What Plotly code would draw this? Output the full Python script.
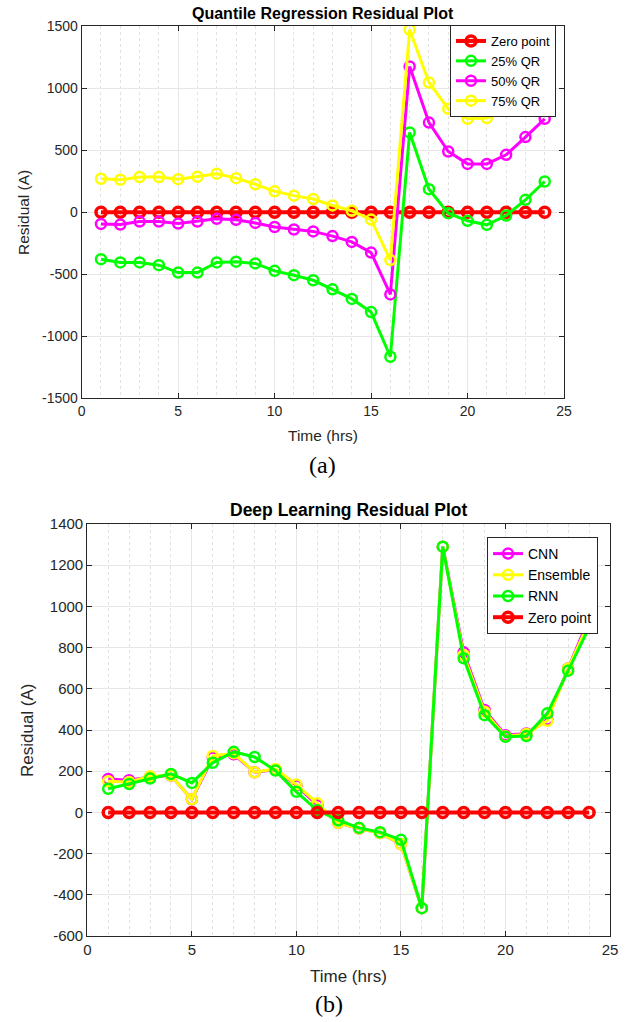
import plotly.graph_objects as go

W, H = 632, 1022

hours = list(range(1, 25))

# (a) Quantile regression residuals
zero_a = [0, 0, 0, 0, 0, 0, 0, 0, 0, 0, 0, 0, 0, 0, 0, 0, 0, 0, 0, 0, 0, 0, 0, 0]
qr25 = [-379, -405, -405, -427, -487, -487, -405, -399, -413, -473, -508, -549,
        -622, -699, -805, -1165, 642, 185, -8, -70, -102, -27, 99, 247]
qr50 = [-95, -100, -76, -76, -92, -76, -54, -62, -87, -120, -140, -155,
        -193, -240, -326, -663, 1174, 722, 489, 389, 389, 462, 605, 752]
qr75 = [269, 261, 283, 283, 266, 285, 310, 274, 225, 168, 133, 106,
        54, 11, -60, -386, 1470, 1045, 833, 752, 758, 825, 960, 1100]

# (b) Deep learning residuals
cnn = [162, 156, 172, 179, 64, 266, 282, 195, 207, 131, 35, -51,
       -78, -100, -154, -465, 1290, 777, 497, 375, 383, 451, 699, 942]
ens = [151, 148, 175, 179, 64, 274, 287, 195, 211, 135, 44, -51,
       -78, -100, -154, -465, 1290, 764, 489, 370, 380, 445, 699, 925]
rnn = [115, 138, 164, 187, 143, 241, 294, 269, 203, 100, 10, -38,
       -75, -96, -133, -465, 1290, 748, 472, 367, 371, 481, 688, 898]
zero_b = [0, 0, 0, 0, 0, 0, 0, 0, 0, 0, 0, 0, 0, 0, 0, 0, 0, 0, 0, 0, 0, 0, 0, 0]

# tick labels
x_ticks = [0, 5, 10, 15, 20, 25]
ya_ticks = [-1500, -1000, -500, 0, 500, 1000, 1500]
ya_labels = ["-1500", "-1000", "-500", "0", "500", "1000", "1500"]
yb_ticks = [-600, -400, -200, 0, 200, 400, 600, 800, 1000, 1200, 1400]
yb_labels = ["-600", "-400", "-200", "0", "200", "400", "600", "800", "1000", "1200", "1400"]

RED, GREEN, MAG, YEL = "#ff0000", "#00ff00", "#ff00ff", "#ffff00"
FONT = "Liberation Sans, Arial, sans-serif"
SERIF = "Liberation Serif, Times New Roman, serif"
TXT = "#262626"


def px_x(p):
    return p / W


def px_y(p):
    return 1 - p / H


def trace(x, y, name, color, xa, ya, legend, lw=3, mw=2.5):
    return go.Scatter(
        x=x, y=y, name=name, mode="lines+markers",
        line=dict(color=color, width=lw),
        marker=dict(symbol="circle-open", size=10, color=color,
                    line=dict(width=mw, color=color)),
        xaxis=xa, yaxis=ya, legend=legend,
    )


fig = go.Figure()
# top
fig.add_trace(trace(hours, zero_a, "Zero point", RED, "x", "y", "legend", lw=4, mw=3.5))
fig.add_trace(trace(hours, qr25, "25% QR", GREEN, "x", "y", "legend"))
fig.add_trace(trace(hours, qr50, "50% QR", MAG, "x", "y", "legend"))
fig.add_trace(trace(hours, qr75, "75% QR", YEL, "x", "y", "legend"))
# bottom
fig.add_trace(trace(hours, cnn, "CNN", MAG, "x2", "y2", "legend2"))
fig.add_trace(trace(hours, ens, "Ensemble", YEL, "x2", "y2", "legend2"))
fig.add_trace(trace(hours, rnn, "RNN", GREEN, "x2", "y2", "legend2"))
fig.add_trace(trace(hours, zero_b, "Zero point", RED, "x2", "y2", "legend2", lw=4, mw=3.5))


def xax(domain, anchor, fs):
    return dict(
        domain=domain, anchor=anchor, range=[0, 25],
        tickmode="array", tickvals=x_ticks, ticktext=[str(v) for v in x_ticks],
        automargin=False,
        showline=True, linecolor=TXT, linewidth=1.2, mirror="ticks",
        ticks="inside", ticklen=5, tickcolor=TXT,
        showgrid=True, gridcolor="#e6e6e6", gridwidth=1, zeroline=False,
        minor=dict(dtick=1, tick0=0, showgrid=True, gridcolor="#e2e2e2",
                   griddash="dot", gridwidth=1, ticks=""),
        tickfont=dict(family=FONT, size=fs, color=TXT),
    )


def yax(domain, anchor, rng, vals, labels, fs):
    return dict(
        domain=domain, anchor=anchor, range=rng,
        tickmode="array", tickvals=vals, ticktext=labels,
        automargin=False,
        showline=True, linecolor=TXT, linewidth=1.2, mirror="ticks",
        ticks="inside", ticklen=5, tickcolor=TXT,
        showgrid=True, gridcolor="#e6e6e6", gridwidth=1, zeroline=False,
        tickfont=dict(family=FONT, size=fs, color=TXT),
    )


top_x = [px_x(81.7), px_x(564)]
top_y = [px_y(398.3), px_y(26)]
bot_x = [px_x(87.3), px_x(610)]
bot_y = [px_y(936), px_y(524)]

fig.update_layout(
    width=W, height=H, margin=dict(l=0, r=0, t=0, b=0, autoexpand=False),
    paper_bgcolor="white", plot_bgcolor="white",
    xaxis=xax(top_x, "y", 14),
    yaxis=yax(top_y, "x", [-1500, 1500], ya_ticks, ya_labels, 14),
    xaxis2=xax(bot_x, "y2", 15),
    yaxis2=yax(bot_y, "x2", [-600, 1400], yb_ticks, yb_labels, 15),
    legend=dict(x=px_x(556), y=px_y(25), xanchor="right", yanchor="top",
                bgcolor="white", bordercolor=TXT, borderwidth=1,
                font=dict(family=FONT, size=13, color="black"),
                tracegroupgap=0, itemwidth=30),
    legend2=dict(x=px_x(598), y=px_y(537), xanchor="right", yanchor="top",
                 bgcolor="white", bordercolor=TXT, borderwidth=1,
                 font=dict(family=FONT, size=14, color="black"),
                 tracegroupgap=0, itemwidth=30),
    showlegend=True,
)

ann = [
    dict(text="<b>Quantile Regression Residual Plot</b>", x=px_x(322.8), y=px_y(13.5),
         font=dict(family=FONT, size=16, color="black")),
    dict(text="Time (hrs)", x=px_x(323), y=px_y(435),
         font=dict(family=FONT, size=15.5, color=TXT)),
    dict(text="Residual (A)", x=px_x(24), y=px_y(213), textangle=-90,
         font=dict(family=FONT, size=15.5, color=TXT)),
    dict(text="(a)", x=px_x(323), y=px_y(465),
         font=dict(family=SERIF, size=24, color="black")),
    dict(text="<b>Deep Learning Residual Plot</b>", x=px_x(348.6), y=px_y(510),
         font=dict(family=FONT, size=17.5, color="black")),
    dict(text="Time (hrs)", x=px_x(349), y=px_y(976),
         font=dict(family=FONT, size=17, color=TXT)),
    dict(text="Residual (A)", x=px_x(27), y=px_y(730), textangle=-90,
         font=dict(family=FONT, size=17, color=TXT)),
    dict(text="(b)", x=px_x(329), y=px_y(1004),
         font=dict(family=SERIF, size=24, color="black")),
]
for a in ann:
    a.update(xref="paper", yref="paper", showarrow=False, xanchor="center", yanchor="middle")
fig.update_layout(annotations=ann)

fig.write_html("out.html", config={"displayModeBar": False},
               post_script="document.body.style.margin='0';document.body.style.overflow='hidden';")
